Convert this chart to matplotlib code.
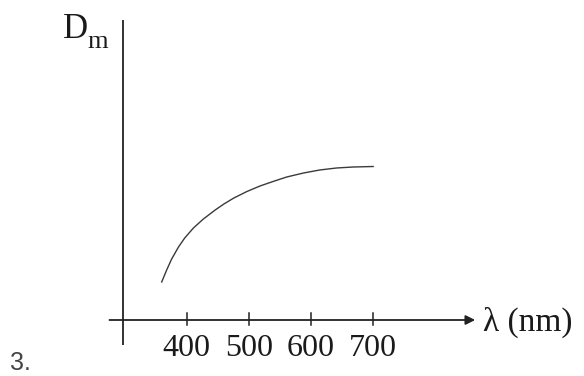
import matplotlib
matplotlib.use("Agg")
import matplotlib.pyplot as plt

# Curve: wavelength (nm) vs D_m (arbitrary units)
wavelength = [360, 368, 376, 387, 397, 411, 427, 446, 460, 476, 497, 518,
              539, 561, 588, 614, 641, 668, 700]
d_min = [38, 50, 61, 73, 82, 92, 101, 110, 116, 122, 128.5, 134,
         138.5, 143, 147, 150, 152, 153, 153.5]

# Tick marks on the wavelength axis
tick_values = [400, 500, 600, 700]
tick_labels = ["400", "500", "600", "700"]

fig = plt.figure(figsize=(5.84, 3.76), dpi=100)
ax = fig.add_axes([0, 0, 1, 1])
ax.set_xlim(100, 1039)
ax.set_ylim(-56, 320)
ax.axis("off")

serif = "Liberation Serif"

# Axes drawn by hand (the origin sits at lambda ~297 nm)
ax.plot([297, 297], [-25, 300], color="#222222", lw=1.3, solid_capstyle="butt")
ax.annotate("", xy=(864, 0), xytext=(276, 0),
            arrowprops=dict(arrowstyle="-|>", color="#222222", lw=1.3,
                            mutation_scale=14, shrinkA=0, shrinkB=0))

# Ticks and labels
for v, lab in zip(tick_values, tick_labels):
    ax.plot([v, v], [-5, 7], color="#222222", lw=1.1)
    ax.text(v, -36.5, lab, ha="center", va="baseline", fontsize=23,
            family=serif, color="#1a1a1a")

# The curve
ax.plot(wavelength, d_min, color="#3a3a3a", lw=1.0, solid_joinstyle="round")

# Axis titles
ax.text(876, -11, "λ (nm)", ha="left", va="baseline", fontsize=24,
        family=serif, color="#1a1a1a")
ax.text(201, 282, "D", ha="left", va="baseline", fontsize=25,
        family=serif, color="#1a1a1a")
ax.text(241, 272, "m", ha="left", va="baseline", fontsize=19,
        family=serif, color="#1a1a1a")

# Question number
ax.text(116, -50, "3.", ha="left", va="baseline", fontsize=18,
        family="Liberation Sans", color="#444444")

fig.savefig("out.png", dpi=100)
